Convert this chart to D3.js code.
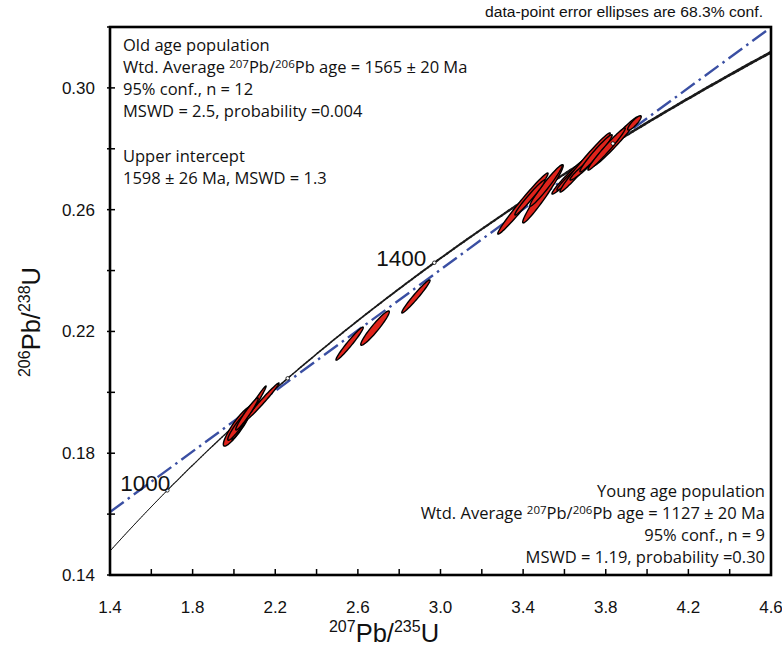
<!DOCTYPE html>
<html>
<head>
<meta charset="utf-8">
<script src="https://cdn.jsdelivr.net/npm/d3@7"></script>
<style>
  body { margin: 0; background: #fff; }
  svg { display: block; }
</style>
</head>
<body>
<svg id="chart" width="782" height="649"></svg>
<script>
// U-Pb decay constants (1/yr)
const LAMBDA_238 = 1.55125e-10;
const LAMBDA_235 = 9.8485e-10;

// Axis ticks
const xTicks = [1.4, 1.8, 2.2, 2.6, 3.0, 3.4, 3.8, 4.2, 4.6];
const xTickLabels = ["1.4", "1.8", "2.2", "2.6", "3.0", "3.4", "3.8", "4.2", "4.6"];
const xMinorTicks = [1.6, 2.0, 2.4, 2.8, 3.2, 3.6, 4.0, 4.4];
const yTicks = [0.14, 0.18, 0.22, 0.26, 0.30];
const yTickLabels = ["0.14", "0.18", "0.22", "0.26", "0.30"];
const yMinorTicks = [0.16, 0.20, 0.24, 0.28, 0.32];

// Concordia age markers (Ma)
const markerAges = [1000, 1200, 1400, 1600];
const labelledAges = [1000, 1400];

// Discordia intercept ages (Ma)
const interceptAges = [1162, 1598];

// Young population: 207Pb/235U, 206Pb/238U, 1-sigma errors, error correlation
const youngX   = [2.017, 2.073, 2.138, 2.075, 2.020, 2.063, 2.560, 2.683, 2.881];
const youngY   = [0.1888, 0.1932, 0.1970, 0.1942, 0.1889, 0.1929, 0.2160, 0.2211, 0.2315];
const youngSx  = [0.0451, 0.0546, 0.0530, 0.0217, 0.0329, 0.0358, 0.0436, 0.0456, 0.0452];
const youngSy  = [0.00427, 0.00586, 0.00402, 0.00177, 0.00306, 0.00348, 0.00359, 0.00372, 0.00359];
const youngRho = [0.905, 0.990, 0.987, 0.885, 0.935, 0.963, 0.972, 0.949, 0.973];

// Old population
const oldX   = [3.399, 3.496, 3.511, 3.433, 3.632, 3.668, 3.700, 3.688, 3.753, 3.847, 3.804, 3.939];
const oldY   = [0.2620, 0.2652, 0.2679, 0.2640, 0.2714, 0.2730, 0.2755, 0.2734, 0.2785, 0.2824, 0.2799, 0.2885];
const oldSx  = [0.0804, 0.0648, 0.0517, 0.0483, 0.0611, 0.0690, 0.0803, 0.0403, 0.0516, 0.0724, 0.0596, 0.0216];
const oldSy  = [0.00663, 0.00631, 0.00446, 0.00381, 0.00415, 0.00436, 0.00642, 0.00242, 0.00403, 0.00534, 0.00457, 0.00156];
const oldRho = [0.984, 0.971, 0.972, 0.976, 0.975, 0.979, 0.983, 0.955, 0.970, 0.978, 0.977, 0.871];

// 68.3% confidence region for two variables
const CONF_SCALE = Math.sqrt(2.2957);

const W = 782, H = 649;
const margin = { left: 110, top: 27, right: 11, bottom: 74 };
const pw = W - margin.left - margin.right;
const ph = H - margin.top - margin.bottom;

const svg = d3.select("#chart");
const x = d3.scaleLinear().domain([1.4, 4.6]).range([margin.left, margin.left + pw]);
const y = d3.scaleLinear().domain([0.14, 0.32]).range([margin.top + ph, margin.top]);

svg.append("defs").append("clipPath").attr("id", "plotClip")
  .append("rect").attr("x", margin.left).attr("y", margin.top)
  .attr("width", pw).attr("height", ph);

const plot = svg.append("g").attr("clip-path", "url(#plotClip)");

function concordia(tMa) {
  const t = tMa * 1e6;
  return [Math.exp(LAMBDA_235 * t) - 1, Math.exp(LAMBDA_238 * t) - 1];
}

// Concordia curve; line weight grows with age like the decay-constant band
const ages = d3.range(860, 1800, 4);
for (let i = 0; i < ages.length - 1; i++) {
  const a = concordia(ages[i]), b = concordia(ages[i + 1]);
  const t = (ages[i] + ages[i + 1]) / 2;
  const w = t < 1000 ? 1 : 1 + Math.min(1.8, (t - 1000) / 750 * 1.8);
  plot.append("line")
    .attr("x1", x(a[0])).attr("y1", y(a[1]))
    .attr("x2", x(b[0])).attr("y2", y(b[1]))
    .attr("stroke", "#1a1a1a").attr("stroke-width", w)
    .attr("stroke-linecap", "round");
}

// Discordia through the two intercepts, extended across the plot
const p1 = concordia(interceptAges[0]), p2 = concordia(interceptAges[1]);
const slope = (p2[1] - p1[1]) / (p2[0] - p1[0]);
const xd = x.domain();
plot.append("line")
  .attr("x1", x(xd[0])).attr("y1", y(p1[1] + slope * (xd[0] - p1[0])))
  .attr("x2", x(xd[1])).attr("y2", y(p1[1] + slope * (xd[1] - p1[0])))
  .attr("stroke", "#3a4fa3").attr("stroke-width", 2.4)
  .attr("stroke-dasharray", "17,5,2.5,5");

// Error ellipses
function ellipsePath(cx, cy, sx, sy, rho) {
  const pts = d3.range(0, 73).map(i => {
    const phi = i / 72 * 2 * Math.PI;
    const dx = CONF_SCALE * sx * Math.cos(phi);
    const dy = CONF_SCALE * sy * (rho * Math.cos(phi) + Math.sqrt(1 - rho * rho) * Math.sin(phi));
    return [x(cx + dx), y(cy + dy)];
  });
  return d3.line().curve(d3.curveLinearClosed)(pts);
}
function drawSet(xs, ys, sxs, sys, rhos) {
  xs.forEach((v, i) => {
    plot.append("path")
      .attr("d", ellipsePath(v, ys[i], sxs[i], sys[i], rhos[i]))
      .attr("fill", "#e0231b").attr("stroke", "#000")
      .attr("stroke-width", 1.4).attr("stroke-linejoin", "round");
  });
}
drawSet(youngX, youngY, youngSx, youngSy, youngRho);
drawSet(oldX, oldY, oldSx, oldSy, oldRho);

// Age markers on concordia
markerAges.forEach(a => {
  const p = concordia(a);
  plot.append("circle").attr("cx", x(p[0])).attr("cy", y(p[1])).attr("r", 1.8)
    .attr("fill", "#fff").attr("stroke", "#000").attr("stroke-width", 0.8);
});
const ageLabelOffset = { 1000: [3, 1], 1400: [-8, 3] };
labelledAges.forEach(a => {
  const p = concordia(a);
  svg.append("text")
    .attr("x", x(p[0]) + ageLabelOffset[a][0]).attr("y", y(p[1]) + ageLabelOffset[a][1])
    .attr("text-anchor", "end")
    .attr("font-family", "Liberation Sans, Arial, sans-serif").attr("font-size", 22.5)
    .attr("fill", "#111")
    .text(a);
});

// Frame and ticks
const axisG = svg.append("g").attr("stroke", "#000");
xTicks.concat(xMinorTicks).forEach(v => {
  axisG.append("line").attr("x1", x(v)).attr("x2", x(v))
    .attr("y1", margin.top + ph).attr("y2", margin.top + ph - 6).attr("stroke-width", 1.5);
});
yTicks.concat(yMinorTicks).forEach(v => {
  axisG.append("line").attr("y1", y(v)).attr("y2", y(v))
    .attr("x1", margin.left - 3).attr("x2", margin.left + 5).attr("stroke-width", 1.5);
});
svg.append("rect").attr("x", margin.left).attr("y", margin.top)
  .attr("width", pw).attr("height", ph)
  .attr("fill", "none").attr("stroke", "#000").attr("stroke-width", 2.6);

const axisFont = "Liberation Sans, Arial, sans-serif";
xTicks.forEach((v, i) => {
  svg.append("text").attr("x", x(v)).attr("y", margin.top + ph + 38)
    .attr("text-anchor", "middle").attr("font-family", axisFont).attr("font-size", 17)
    .attr("fill", "#111").text(xTickLabels[i]);
});
yTicks.forEach((v, i) => {
  svg.append("text").attr("x", margin.left - 15).attr("y", y(v) + 6)
    .attr("text-anchor", "end").attr("font-family", axisFont).attr("font-size", 17)
    .attr("fill", "#111").text(yTickLabels[i]);
});

// Axis titles with isotope superscripts
function isoTitle(sel, parts) {
  parts.forEach(p => {
    const ts = sel.append("tspan").text(p.t);
    if (p.sup) ts.attr("font-size", 16).attr("dy", -10);
    else ts.attr("font-size", 25.5).attr("dy", p.after ? 10 : 0);
  });
}
const xTitle = svg.append("text").attr("x", 384).attr("y", 642)
  .attr("text-anchor", "middle").attr("font-family", axisFont).attr("fill", "#111");
isoTitle(xTitle, [{ t: "207", sup: true }, { t: "Pb/", after: true }, { t: "235", sup: true }, { t: "U", after: true }]);
const yTitle = svg.append("text").attr("transform", "translate(40,322) rotate(-90)")
  .attr("text-anchor", "middle").attr("font-family", axisFont).attr("fill", "#111");
isoTitle(yTitle, [{ t: "206", sup: true }, { t: "Pb/", after: true }, { t: "238", sup: true }, { t: "U", after: true }]);

// Note above the frame
svg.append("text").attr("x", 763).attr("y", 17).attr("text-anchor", "end")
  .attr("font-family", axisFont).attr("font-size", 14).attr("fill", "#111")
  .attr("textLength", 278).attr("lengthAdjust", "spacingAndGlyphs")
  .text("data-point error ellipses are 68.3% conf.");

// Result annotations
const noteFont = "'Open Sans', 'Noto Sans', sans-serif";
const noteSize = 16.5;
function noteLine(xp, yp, anchor, parts) {
  const t = svg.append("text").attr("x", xp).attr("y", yp).attr("text-anchor", anchor)
    .attr("font-family", noteFont).attr("font-size", noteSize).attr("fill", "#111");
  parts.forEach(p => {
    if (typeof p === "string") t.append("tspan").text(p);
    else t.append("tspan").attr("font-size", 11.5).attr("baseline-shift", "5").text(p.sup);
  });
}
const oldLines = [
  ["Old age population"],
  ["Wtd. Average ", { sup: "207" }, "Pb/", { sup: "206" }, "Pb age = 1565 \u00b1 20 Ma"],
  ["95% conf., n = 12"],
  ["MSWD = 2.5, probability =0.004"]
];
[51, 73, 95, 117].forEach((yy, i) => noteLine(123, yy, "start", oldLines[i]));
noteLine(123, 162, "start", ["Upper intercept"]);
noteLine(123, 184, "start", ["1598 \u00b1 26 Ma, MSWD = 1.3"]);

const youngLines = [
  ["Young age population"],
  ["Wtd. Average ", { sup: "207" }, "Pb/", { sup: "206" }, "Pb age = 1127 \u00b1 20 Ma"],
  ["95% conf., n = 9"],
  ["MSWD = 1.19, probability =0.30"]
];
[497, 519, 541, 563].forEach((yy, i) => noteLine(765, yy, "end", youngLines[i]));
</script>
</body>
</html>
